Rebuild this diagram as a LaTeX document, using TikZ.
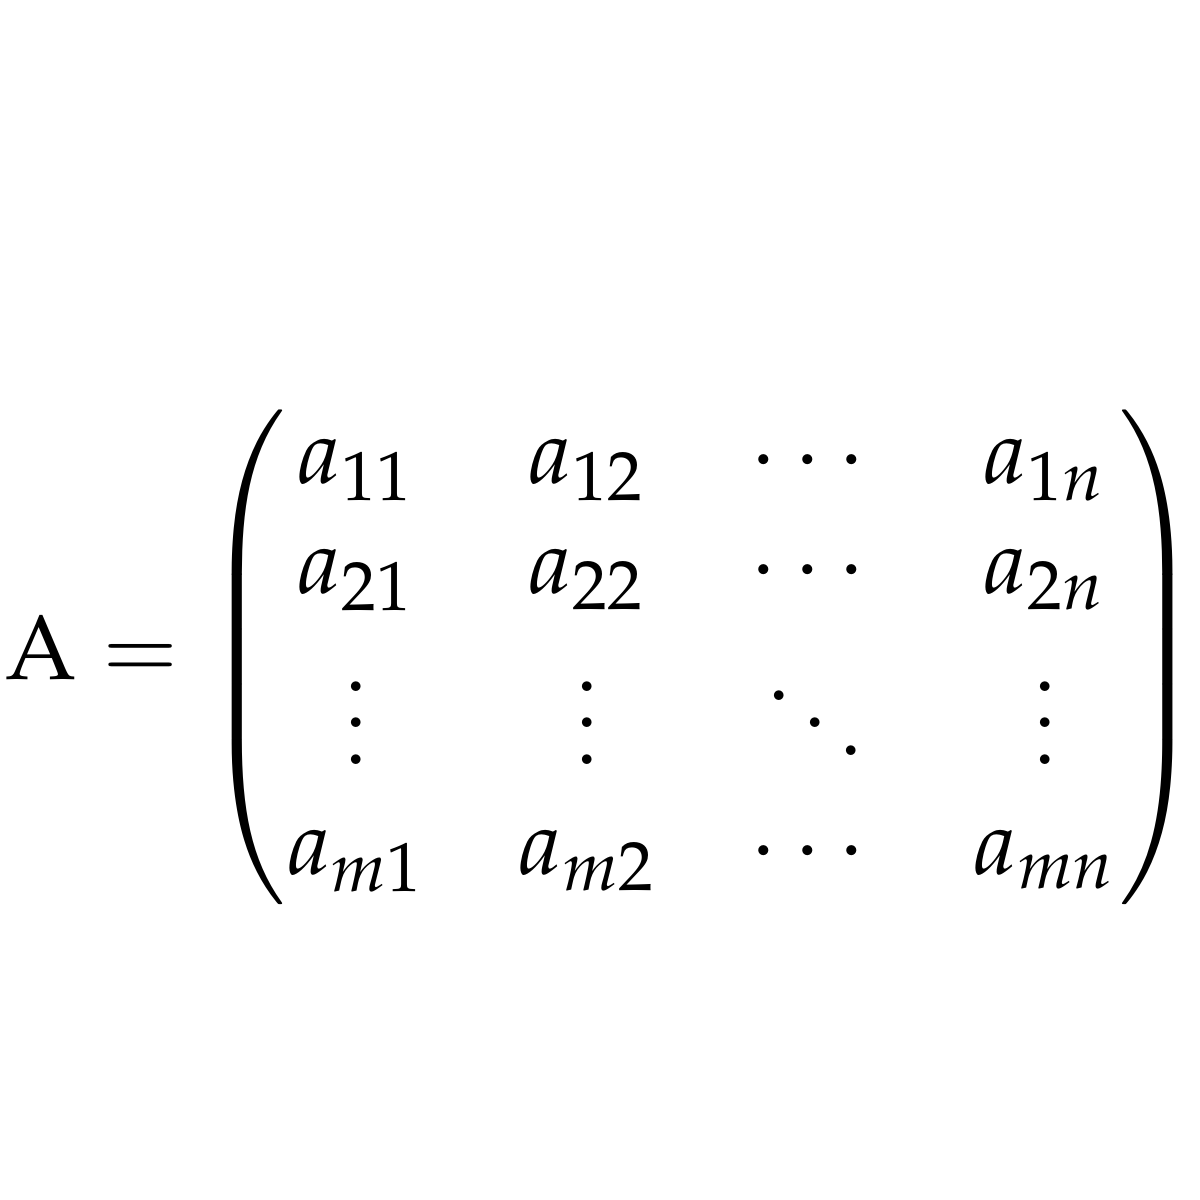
\documentclass[tikz,border=0pt]{standalone}
\usepackage{amsmath}
\usepackage{mathpazo}
\begin{document}
\begin{tikzpicture}
            \useasboundingbox (-6,-6) rectangle (6,6);

            %Matriz
            \node(eq) at (0.03,-0.57) {\resizebox{11.95cm}{!}{$\mathrm{A} =
                \begin{pmatrix}
                    a_{11} & a_{12} & \cdots & a_{1n}\\
                    a_{21} & a_{22} & \cdots & a_{2n}\\
                    \vdots & \vdots & \ddots & \vdots\\
                    a_{m1} & a_{m2} & \cdots & a_{mn}
                \end{pmatrix}$}};
        \end{tikzpicture}
\end{document}
